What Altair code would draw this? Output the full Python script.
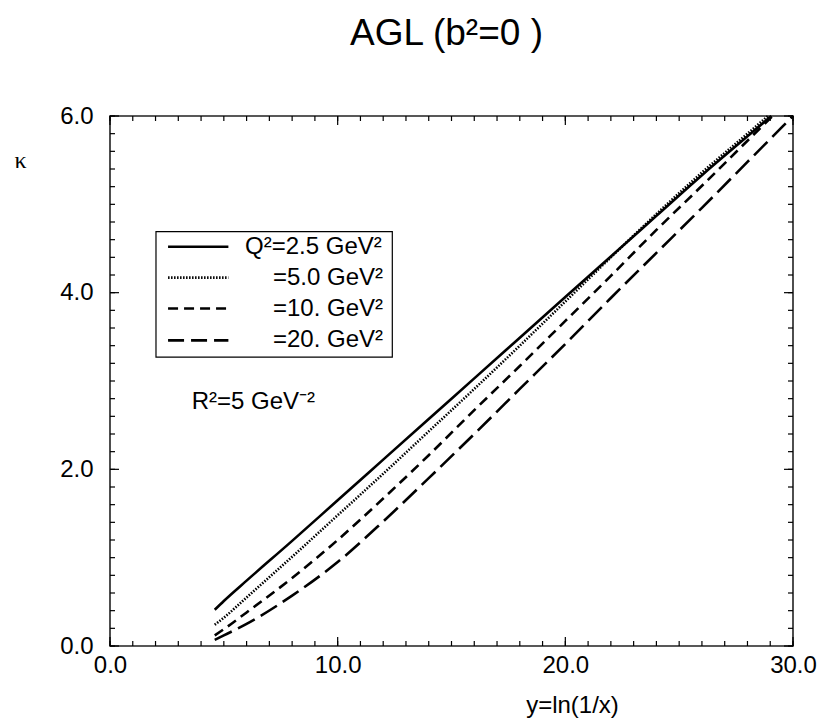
import altair as alt
import pandas as pd

# ---- data ----
x_25 = [4.6, 5, 6, 8, 10, 12, 14, 16, 18, 20, 22, 24, 26, 28, 29.05]
k_25 = [0.41, 0.51, 0.74, 1.19, 1.65, 2.11, 2.57, 3.03, 3.49, 3.95, 4.41, 4.87, 5.33, 5.77, 6.0]

x_50 = [4.6, 5, 6, 8, 10, 12, 14, 16, 18, 20, 22, 24, 26, 28, 28.9]
k_50 = [0.24, 0.32, 0.55, 1.01, 1.48, 1.95, 2.43, 2.91, 3.40, 3.90, 4.40, 4.89, 5.36, 5.80, 6.0]

x_10 = [4.6, 5, 6, 8, 10, 12, 14, 16, 18, 20, 22, 24, 26, 28, 29.1]
k_10 = [0.12, 0.19, 0.38, 0.77, 1.20, 1.67, 2.16, 2.67, 3.17, 3.68, 4.19, 4.71, 5.21, 5.72, 6.0]

x_20 = [4.6, 5, 6, 8, 10, 12, 14, 16, 18, 20, 22, 24, 26, 28, 30]
k_20 = [0.07, 0.12, 0.25, 0.57, 0.95, 1.41, 1.90, 2.40, 2.91, 3.42, 3.94, 4.45, 4.96, 5.48, 6.0]

title_text = "AGL (b\u00b2=0 )"
legend_labels = ["Q\u00b2=2.5 GeV\u00b2", "=5.0 GeV\u00b2", "=10. GeV\u00b2", "=20. GeV\u00b2"]
legend_rows = [4.52, 4.17, 3.82, 3.46]
legend_text_x = [5.93, 7.16, 7.16, 7.16]
note_text = "R\u00b2=5 GeV\u207b\u00b2"

x_label_vals = [0, 10, 20, 30]
y_label_vals = [0, 2, 4, 6]
x_minor_ticks = list(range(0, 31))
x_major_ticks = [0, 10, 20, 30]
y_minor_ticks = [round(i * 0.2, 1) for i in range(31)]
y_major_ticks = [0, 2, 4, 6]

W, H = 683, 530
FONT = "Liberation Sans"

xs = alt.Scale(domain=[0, 30], nice=False, zero=False)
ys = alt.Scale(domain=[0, 6], nice=False, zero=False)

X_AXIS = alt.Axis(values=x_label_vals, format=".1f", labelPadding=7,
                  labelFlush=False, titleX=462, titleY=59,
                  titleBaseline="middle", titleAlign="center")
Y_AXIS = alt.Axis(values=y_label_vals, format=".1f", labelPadding=17,
                  titleAngle=0, titleX=-90, titleY=44,
                  titleAlign="center", titleBaseline="middle",
                  titleFont="Liberation Serif", titleFontSize=24)

styles = [
    (x_25, k_25, []),
    (x_50, k_50, [1.5, 1.5]),
    (x_10, k_10, [10, 6]),
    (x_20, k_20, [19, 7]),
]
legend_dash = [[], [1.5, 1.5], [10, 6], [16, 7]]

layers = []

# legend box (carries the axis definitions)
box = pd.DataFrame({"x": [2.02], "x2": [12.4], "y": [3.27], "y2": [4.69]})
layers.append(
    alt.Chart(box).mark_rect(fill="white", stroke="black", strokeWidth=1.2).encode(
        x=alt.X("x:Q", scale=xs, title="y=ln(1/x)", axis=X_AXIS), x2="x2:Q",
        y=alt.Y("y:Q", scale=ys, title="\u03ba", axis=Y_AXIS), y2="y2:Q",
    )
)

for xv, kv, dash in styles:
    df = pd.DataFrame({"y": xv, "k": kv})
    mk = alt.Chart(df).mark_line(color="black", strokeWidth=2.6, strokeCap="butt",
                                 interpolate="monotone",
                                 **({"strokeDash": dash} if dash else {}))
    layers.append(mk.encode(x=alt.X("y:Q", scale=xs, title="y=ln(1/x)"),
                            y=alt.Y("k:Q", scale=ys, title="\u03ba"), order="y:Q"))

# legend samples and labels
for i, dash in enumerate(legend_dash):
    seg = pd.DataFrame({"x": [2.55], "x2": [5.2], "y": [legend_rows[i]]})
    layers.append(
        alt.Chart(seg).mark_rule(color="black", strokeWidth=2.6, strokeCap="butt",
                                 **({"strokeDash": dash} if dash else {})).encode(
            x=alt.X("x:Q", scale=xs, title="y=ln(1/x)"), x2="x2:Q",
            y=alt.Y("y:Q", scale=ys, title="\u03ba")
        )
    )
leg = pd.DataFrame({"x": legend_text_x, "y": legend_rows, "t": legend_labels})
layers.append(
    alt.Chart(leg).mark_text(align="left", baseline="middle", font=FONT, fontSize=24,
                             color="black").encode(
        x=alt.X("x:Q", scale=xs, title="y=ln(1/x)"),
        y=alt.Y("y:Q", scale=ys, title="\u03ba"), text="t:N"
    )
)
note = pd.DataFrame({"x": [3.59], "y": [2.76], "t": [note_text]})
layers.append(
    alt.Chart(note).mark_text(align="left", baseline="middle", font=FONT, fontSize=24,
                              color="black").encode(
        x=alt.X("x:Q", scale=xs, title="y=ln(1/x)"),
        y=alt.Y("y:Q", scale=ys, title="\u03ba"), text="t:N"
    )
)

# title as text above the plot
ttl = pd.DataFrame({"t": [title_text]})
layers.append(
    alt.Chart(ttl).mark_text(align="center", baseline="alphabetic", font=FONT,
                             fontSize=37, color="black").encode(
        x=alt.value(W / 2 - 5), y=alt.value(-71), text="t:N"
    )
)

# inward ticks on all four sides
def xticks(vals, length, top):
    d = pd.DataFrame({"v": vals})
    y0, y1 = (0, length) if top else (H, H - length)
    return alt.Chart(d).mark_rule(color="black", strokeWidth=1.2).encode(
        x=alt.X("v:Q", scale=xs, title="y=ln(1/x)"), y=alt.value(y0), y2=alt.value(y1))

def yticks(vals, length, right):
    d = pd.DataFrame({"v": vals})
    x0, x1 = (W, W - length) if right else (0, length)
    return alt.Chart(d).mark_rule(color="black", strokeWidth=1.2).encode(
        y=alt.Y("v:Q", scale=ys, title="\u03ba"), x=alt.value(x0), x2=alt.value(x1))

for top in (False, True):
    layers.append(xticks(x_minor_ticks, 5, top))
    layers.append(xticks(x_major_ticks, 9, top))
for right in (False, True):
    layers.append(yticks(y_minor_ticks, 5, right))
    layers.append(yticks(y_major_ticks, 9, right))

chart = alt.layer(*layers).properties(
    width=W, height=H,
    autosize=alt.AutoSizeParams(type="none"),
    padding={"left": 110, "top": 116, "right": 32, "bottom": 77},
).configure_view(stroke="#222", strokeWidth=1.6).configure_axis(
    domain=False, ticks=False, grid=False, labelFont=FONT, labelFontSize=24,
    labelColor="black", titleFont=FONT, titleFontSize=24, titleFontWeight="normal",
    titleColor="black",
)

chart.save("out.html", embed_options={"renderer": "svg", "actions": False})
